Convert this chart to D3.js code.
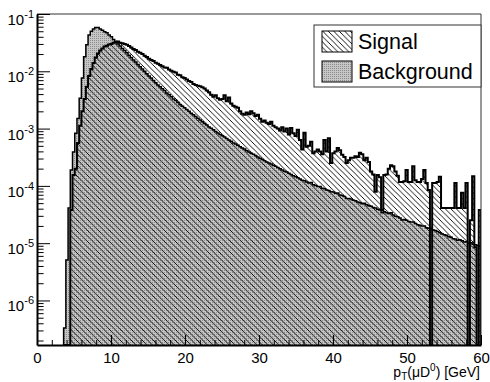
<!DOCTYPE html>
<html>
<head>
<meta charset="utf-8">
<script src="https://cdn.jsdelivr.net/npm/d3@7"></script>
<style>
  body { margin: 0; background: #fff; }
  svg { display: block; font-family: "Liberation Sans", Arial, sans-serif; }
</style>
</head>
<body>
<svg id="chart" width="490" height="382"></svg>
<script>
"use strict";

// histogram binning: 0.3 GeV bins, first stored bin starts at 3.6 GeV
const binWidth = 0.3;
const firstBinLow = 3.6;

const background = [
  3.3e-7, 5.1e-6, 4.1e-5, 1.9e-4, 3.9e-4, 8.3e-4, 1.5e-3, 3.4e-3, 7.6e-3, 1.8e-2,
  2.9e-2, 4.3e-2, 5.0e-2, 5.5e-2, 5.8e-2, 5.8e-2, 5.5e-2, 5.2e-2, 4.9e-2, 4.7e-2,
  4.3e-2, 4.0e-2, 3.6e-2, 3.3e-2, 3.0e-2, 2.75e-2, 2.5e-2, 2.3e-2, 2.1e-2, 1.9e-2,
  1.74e-2, 1.58e-2, 1.45e-2, 1.32e-2, 1.2e-2, 1.1e-2, 1.0e-2, 9.1e-3, 8.3e-3, 7.6e-3,
  6.9e-3, 6.3e-3, 5.75e-3, 5.4e-3, 4.95e-3, 4.6e-3, 4.2e-3, 3.9e-3, 3.6e-3, 3.3e-3,
  3.1e-3, 2.85e-3, 2.6e-3, 2.45e-3, 2.3e-3, 2.15e-3, 2.0e-3, 1.86e-3, 1.74e-3, 1.62e-3,
  1.51e-3, 1.41e-3, 1.32e-3, 1.23e-3, 1.15e-3, 1.07e-3, 1.01e-3, 9.5e-4, 8.9e-4, 8.4e-4,
  7.9e-4, 7.5e-4, 7.1e-4, 6.7e-4, 6.3e-4, 6.0e-4, 5.6e-4, 5.4e-4, 5.1e-4, 4.8e-4,
  4.6e-4, 4.4e-4, 4.1e-4, 3.9e-4, 3.7e-4, 3.55e-4, 3.4e-4, 3.2e-4, 3.05e-4, 2.9e-4,
  2.75e-4, 2.6e-4, 2.5e-4, 2.4e-4, 2.3e-4, 2.2e-4, 2.1e-4, 2.0e-4, 1.9e-4, 1.8e-4,
  1.74e-4, 1.66e-4, 1.58e-4, 1.51e-4, 1.45e-4, 1.38e-4, 1.32e-4, 1.26e-4, 1.23e-4, 1.17e-4,
  1.12e-4, 1.14e-4, 1.05e-4, 1.02e-4, 9.8e-5, 9.8e-5, 9.1e-5, 8.9e-5, 8.5e-5, 8.3e-5,
  7.9e-5, 7.8e-5, 7.4e-5, 7.5e-5, 6.9e-5, 6.8e-5, 6.5e-5, 6.0e-5, 6.0e-5, 5.9e-5,
  5.6e-5, 5.5e-5, 5.25e-5, 5.1e-5, 4.9e-5, 5.0e-5, 4.7e-5, 4.5e-5, 4.4e-5, 4.2e-5,
  4.1e-5, 3.9e-5, 3.8e-5, 3.4e-5, 3.55e-5, 3.4e-5, 3.3e-5, 3.4e-5, 3.1e-5, 2.95e-5,
  2.9e-5, 2.75e-5, 2.55e-5, 2.6e-5, 2.5e-5, 2.4e-5, 2.35e-5, 2.35e-5, 2.2e-5, 2.1e-5,
  2.05e-5, 2.0e-5, 2.0e-5, 1.86e-5, 1.82e-5, 1.82e-5, 1.7e-5, 1.66e-5, 1.6e-5, 1.52e-5,
  1.45e-5, 1.4e-5, 1.38e-5, 1.3e-5, 1.27e-5, 1.2e-5, 1.18e-5, 1.12e-5, 1.15e-5, 1.1e-5,
  1.05e-5, 1.06e-5, 1.0e-5, 1.02e-5, 9.6e-6, 9.4e-6, 9.1e-6, 8.8e-6
];

const signal = [
  0, 0, 0, 3.8e-5, 1.55e-4, 2.0e-4, 5.6e-4, 1.12e-3, 2.0e-3, 3.3e-3,
  5.4e-3, 8.3e-3, 1.1e-2, 1.4e-2, 1.74e-2, 2.05e-2, 2.3e-2, 2.5e-2, 2.7e-2, 2.8e-2,
  2.95e-2, 3.0e-2, 3.15e-2, 3.25e-2, 3.3e-2, 3.15e-2, 3.1e-2, 3.0e-2, 2.9e-2, 2.75e-2,
  2.6e-2, 2.45e-2, 2.35e-2, 2.2e-2, 2.1e-2, 2.0e-2, 1.86e-2, 1.78e-2, 1.66e-2, 1.58e-2,
  1.51e-2, 1.41e-2, 1.35e-2, 1.29e-2, 1.23e-2, 1.17e-2, 1.15e-2, 1.07e-2, 1.02e-2, 9.8e-3,
  9.5e-3, 8.7e-3, 8.5e-3, 7.9e-3, 7.6e-3, 7.2e-3, 6.8e-3, 6.5e-3, 6.0e-3, 5.75e-3,
  5.6e-3, 5.5e-3, 5.25e-3, 5.0e-3, 4.6e-3, 4.3e-3, 3.9e-3, 3.6e-3, 3.8e-3, 3.4e-3,
  3.2e-3, 3.3e-3, 3.8e-3, 3.0e-3, 3.5e-3, 2.75e-3, 2.5e-3, 2.4e-3, 2.3e-3, 2.0e-3,
  1.82e-3, 1.74e-3, 1.9e-3, 1.78e-3, 2.0e-3, 1.86e-3, 1.66e-3, 1.74e-3, 1.48e-3, 1.32e-3,
  1.38e-3, 1.26e-3, 1.2e-3, 1.32e-3, 1.12e-3, 1.05e-3, 1.0e-3, 9.3e-4, 1.05e-3, 8.9e-4,
  1.0e-3, 7.9e-4, 1.02e-3, 8.3e-4, 7.4e-4, 9.5e-4, 6.3e-4, 4.3e-4, 8.5e-4, 4.8e-4,
  5.0e-4, 5.9e-4, 3.7e-4, 4.0e-4, 4.3e-4, 4.0e-4, 3.55e-4, 6.3e-4, 4.0e-4, 6.8e-4,
  2.5e-4, 3.7e-4, 4.0e-4, 4.6e-4, 4.2e-4, 3.5e-4, 3.2e-4, 2.5e-4, 2.8e-4, 3.1e-4,
  3.1e-4, 3.3e-4, 3.2e-4, 3.8e-4, 3.55e-4, 2.8e-4, 3.1e-4, 2.6e-4, 1.78e-4, 1.58e-4,
  7.9e-5, 1.55e-4, 1.41e-4, 3.8e-5, 1.55e-4, 1.58e-4, 2.0e-4, 2.3e-4, 2.2e-4, 1.78e-4,
  1.51e-4, 1.17e-4, 1.17e-4, 1.2e-4, 1.9e-4, 1.17e-4, 1.17e-4, 2.2e-4, 1.26e-4, 1.17e-4,
  1.17e-4, 1.32e-4, 1.9e-4, 1.12e-4, 8.5e-5, 0, 1.12e-4, 1.12e-4, 1.17e-4, 1.45e-4,
  4.1e-5, 4.1e-5, 4.1e-5, 4.1e-5, 4.1e-5, 4.1e-5, 1.12e-4, 4.1e-5, 4.1e-5, 7.6e-5,
  4.1e-5, 1.12e-4, 0, 2.5e-5, 1.48e-4, 8.5e-6, 0, 3.8e-5
];

const xDomain = [0, 60];
const yDomain = [1.67e-7, 0.1];
const xMajorTicks = [0, 10, 20, 30, 40, 50, 60];
const yDecadeExponents = [-6, -5, -4, -3, -2, -1];
const legendLabels = ["Signal", "Background"];

const frame = {left: 37, right: 481, top: 14, bottom: 345};

const svg = d3.select("#chart");
const x = d3.scaleLinear().domain(xDomain).range([frame.left, frame.right]);
const y = d3.scaleLog().domain(yDomain).range([frame.bottom, frame.top]);

const defs = svg.append("defs");

defs.append("clipPath").attr("id", "frameClip")
  .append("rect")
  .attr("x", frame.left).attr("y", frame.top)
  .attr("width", frame.right - frame.left).attr("height", frame.bottom - frame.top);

// ROOT style 3005-ish hatch
let hatch = defs.append("pattern").attr("id", "hatch")
  .attr("patternUnits", "userSpaceOnUse").attr("width", 5.5).attr("height", 5.5);
hatch.append("path")
  .attr("d", "M0,0L5.5,5.5M-1,4.5L1,6.5M4.5,-1L6.5,1")
  .attr("stroke", "#000").attr("stroke-width", 1)
  .attr("shape-rendering", "crispEdges");

// fine stipple for the background fill
let dots = defs.append("pattern").attr("id", "dots")
  .attr("patternUnits", "userSpaceOnUse").attr("width", 2).attr("height", 2);
dots.append("rect").attr("width", 2).attr("height", 2).attr("fill", "#c6c6c6");
dots.append("rect").attr("width", 1).attr("height", 1).attr("fill", "#8c8c8c");

function yOf(v) {
  return v > 0 ? y(v) : frame.bottom;
}

function stepPath(values) {
  let lo = i => x(firstBinLow + i * binWidth);
  let p = d3.path();
  p.moveTo(lo(0), frame.bottom);
  values.forEach((v, i) => {
    p.lineTo(lo(i), yOf(v));
    p.lineTo(lo(i + 1), yOf(v));
  });
  p.lineTo(lo(values.length), frame.bottom);
  return p;
}

const plot = svg.append("g").attr("clip-path", "url(#frameClip)");

function drawHist(values, fill, lineWidth) {
  let outline = stepPath(values).toString();
  plot.append("path").attr("d", outline + "Z").attr("fill", fill).attr("stroke", "none");
  plot.append("path").attr("d", outline)
    .attr("fill", "none").attr("stroke", "#000").attr("stroke-width", lineWidth)
    .attr("stroke-linejoin", "miter");
}

drawHist(background, "url(#dots)", 1.5);
drawHist(signal, "url(#hatch)", 2);

// frame top/right
svg.append("path")
  .attr("d", `M${frame.left},${frame.top}H${frame.right}V${frame.bottom}`)
  .attr("fill", "none").attr("stroke", "#333").attr("stroke-width", 1);

// x axis, ticks pointing inward
let xMinor = d3.range(0, 61, 2).filter(d => d % 10 != 0);
svg.append("g").attr("transform", `translate(0,${frame.bottom})`)
  .call(d3.axisBottom(x).tickValues(xMinor).tickSizeInner(-5).tickSizeOuter(0).tickFormat(""))
  .call(g => g.select(".domain").remove());
let xAxis = svg.append("g").attr("transform", `translate(0,${frame.bottom})`)
  .call(d3.axisBottom(x).tickValues(xMajorTicks).tickSizeInner(-10).tickSizeOuter(0)
    .tickPadding(7).tickFormat(d3.format("d")));
xAxis.select(".domain").attr("stroke-width", 2).attr("stroke", "#000");
xAxis.selectAll("text").attr("font-size", 15).attr("fill", "#000")
  .attr("font-family", "Liberation Sans, Arial, sans-serif");

// y axis (log)
let yMinor = [];
d3.range(-7, -1).forEach(e => {
  d3.range(2, 10).forEach(k => {
    let v = k * Math.pow(10, e);
    if (v >= yDomain[0] && v <= yDomain[1]) yMinor.push(v);
  });
});
svg.append("g").attr("transform", `translate(${frame.left},0)`)
  .call(d3.axisLeft(y).tickValues(yMinor).tickSizeInner(-6.6).tickSizeOuter(0).tickFormat(""))
  .call(g => g.select(".domain").remove());
let yAxis = svg.append("g").attr("transform", `translate(${frame.left},0)`)
  .call(d3.axisLeft(y).tickValues(yDecadeExponents.map(e => Math.pow(10, e)))
    .tickSizeInner(-13).tickSizeOuter(0).tickFormat(""));
yAxis.select(".domain").attr("stroke-width", 2).attr("stroke", "#000");

yDecadeExponents.forEach(e => {
  let t = svg.append("text")
    .attr("x", 34).attr("y", y(Math.pow(10, e)) + 11)
    .attr("text-anchor", "end").attr("font-size", 15).attr("fill", "#000");
  t.append("tspan").text("10");
  t.append("tspan").attr("dy", -7).attr("font-size", 11).text(`-${Math.abs(e)}`);
});

// x title
let xt = svg.append("text")
  .attr("x", 480).attr("y", 377).attr("text-anchor", "end")
  .attr("font-size", 14).attr("fill", "#000");
xt.append("tspan").text("p");
xt.append("tspan").attr("dy", 3).attr("font-size", 10).text("T");
xt.append("tspan").attr("dy", -3).text("(\u03bcD");
xt.append("tspan").attr("dy", -6).attr("font-size", 10).text("0");
xt.append("tspan").attr("dy", 6).text(") [GeV]");

// legend
let legend = svg.append("g");
legend.append("rect")
  .attr("x", 314).attr("y", 25).attr("width", 167).attr("height", 62)
  .attr("fill", "#fff").attr("stroke", "#333").attr("stroke-width", 1);
[["url(#hatch)", legendLabels[0]], ["url(#dots)", legendLabels[1]]].forEach((item, j) => {
  let top = 31 + j * 30;
  legend.append("rect").attr("x", 322).attr("y", top).attr("width", 30).attr("height", 21)
    .attr("fill", "#fff");
  legend.append("rect").attr("x", 322).attr("y", top).attr("width", 30).attr("height", 21)
    .attr("fill", item[0]).attr("stroke", "#000").attr("stroke-width", 1);
  legend.append("text").attr("x", 358).attr("y", top + 17.5)
    .attr("font-size", 21.5).attr("fill", "#000").text(item[1]);
});
</script>
</body>
</html>
